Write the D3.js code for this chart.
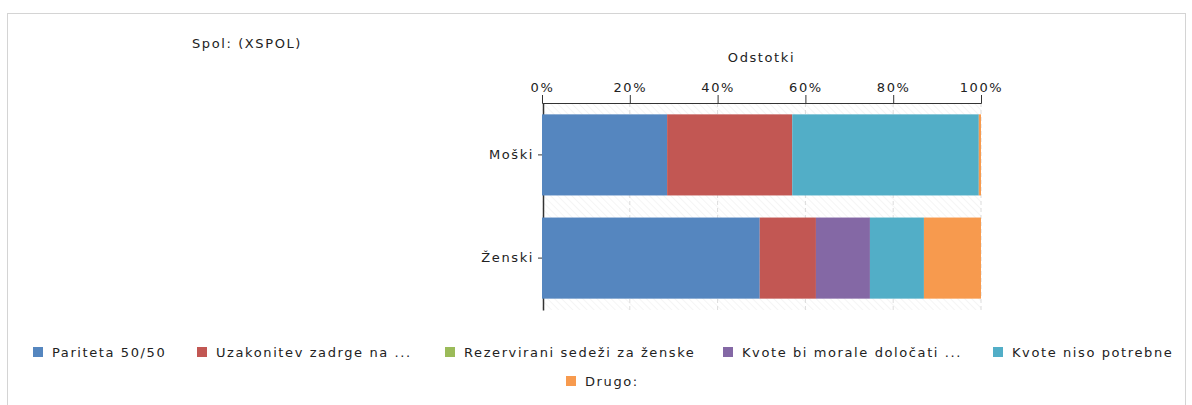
<!DOCTYPE html>
<html>
<head>
<meta charset="utf-8">
<script src="https://cdn.jsdelivr.net/npm/d3@7"></script>
<style>
  body { margin: 0; background: #fff; }
  text { font-family: "DejaVu Sans", Verdana, sans-serif; fill: #222; letter-spacing: 1.6px; }
</style>
</head>
<body>
<svg id="chart" width="1192" height="405"></svg>
<script>
const categories = ["Moški", "Ženski"];
const seriesNames = ["Pariteta 50/50", "Uzakonitev zadrge na ...", "Rezervirani sedeži za ženske",
  "Kvote bi morale določati ...", "Kvote niso potrebne", "Drugo:"];
const seriesColors = ["#5586bf", "#c25753", "#9bbb59", "#8468a5", "#52aec7", "#f79a4e"];
// percentages per category, in series order
const moskiValues = [28.5, 28.5, 0, 0, 42.5, 0.5];
const zenskiValues = [49.6, 12.8, 0, 12.3, 12.3, 13.0];
const tickValues = [0, 20, 40, 60, 80, 100];

const data = [moskiValues, zenskiValues].map((vals, i) => {
  const row = { cat: categories[i] };
  seriesNames.forEach((s, j) => row[s] = vals[j]);
  return row;
});

const margin = { top: 103, left: 542 },
  width = 439, height = 207;

const svg = d3.select("#chart");

// outer frame
svg.append("rect")
  .attr("x", 7.5).attr("y", 13.5)
  .attr("width", 1178).attr("height", 430)
  .attr("fill", "none").attr("stroke", "#d4d4d4");

svg.append("text")
  .attr("x", 192).attr("y", 48)
  .style("font-size", "13px")
  .text("Spol: (XSPOL)");

// hatch pattern
const defs = svg.append("defs");
const pat = defs.append("pattern")
  .attr("id", "hatch").attr("width", 5).attr("height", 5)
  .attr("patternUnits", "userSpaceOnUse")
  .attr("patternTransform", "rotate(-45)");
pat.append("line").attr("x1", 0).attr("y1", 0).attr("x2", 0).attr("y2", 5)
  .attr("stroke", "#ececec").attr("stroke-width", 1);

const chart = svg.append("g")
  .attr("transform", `translate(${margin.left}, ${margin.top})`);

const x = d3.scaleLinear().domain([0, 100]).range([0, width]);
const y = d3.scaleBand().domain(categories).range([0, height]).paddingInner(0.214).paddingOuter(0.11);

chart.append("rect")
  .attr("width", width).attr("height", height)
  .attr("fill", "url(#hatch)");

chart.selectAll(".grid")
  .data(tickValues.slice(1))
  .join("line")
  .attr("class", "grid")
  .attr("x1", d => x(d)).attr("x2", d => x(d))
  .attr("y1", 0).attr("y2", height)
  .attr("stroke", "#dcdcdc")
  .attr("stroke-dasharray", "4,3");

// left axis (bars are painted over its line)
const yAxis = chart.append("g")
  .attr("transform", "translate(1,0)")
  .call(d3.axisLeft(y).tickSize(5).tickSizeOuter(0));
yAxis.select(".domain").attr("stroke", "#333").attr("stroke-width", 1.5);
yAxis.selectAll(".tick line").attr("stroke", "#333");
yAxis.selectAll("text")
  .style("font-size", "13px")
  .attr("fill", "#222")
  .attr("x", -9);

const stack = d3.stack().keys(seriesNames);
const series = stack(data);

chart.selectAll(".layer")
  .data(series)
  .join("g")
  .attr("class", "layer")
  .attr("fill", (d, i) => seriesColors[i])
  .selectAll("rect")
  .data(d => d)
  .join("rect")
  .attr("x", d => x(d[0]))
  .attr("y", d => y(d.data.cat))
  .attr("width", d => x(d[1]) - x(d[0]))
  .attr("height", y.bandwidth());

// top axis
const xAxis = chart.append("g")
  .call(d3.axisTop(x).tickValues(tickValues).tickFormat(d => d + "%").tickSize(8).tickSizeOuter(8));
xAxis.select(".domain").attr("stroke", "#333");
xAxis.selectAll(".tick line").attr("stroke", "#333");
xAxis.selectAll("text")
  .style("font-size", "13px")
  .attr("fill", "#222")
  .attr("y", -11);

chart.append("text")
  .attr("x", width / 2).attr("y", -41)
  .attr("text-anchor", "middle")
  .style("font-size", "13px")
  .text("Odstotki");

// legend
const legendPos = [[33, 352], [197, 352], [445, 352], [723, 352], [993, 352], [566, 381]];
const legend = svg.selectAll(".legend-item")
  .data(seriesNames)
  .join("g")
  .attr("class", "legend-item")
  .attr("transform", (d, i) => `translate(${legendPos[i][0]}, ${legendPos[i][1]})`);

legend.append("rect")
  .attr("x", 0).attr("y", -5)
  .attr("width", 10).attr("height", 10)
  .attr("fill", (d, i) => seriesColors[i]);

legend.append("text")
  .attr("x", 19).attr("y", 5)
  .style("font-size", "13px")
  .text(d => d);
</script>
</body>
</html>
